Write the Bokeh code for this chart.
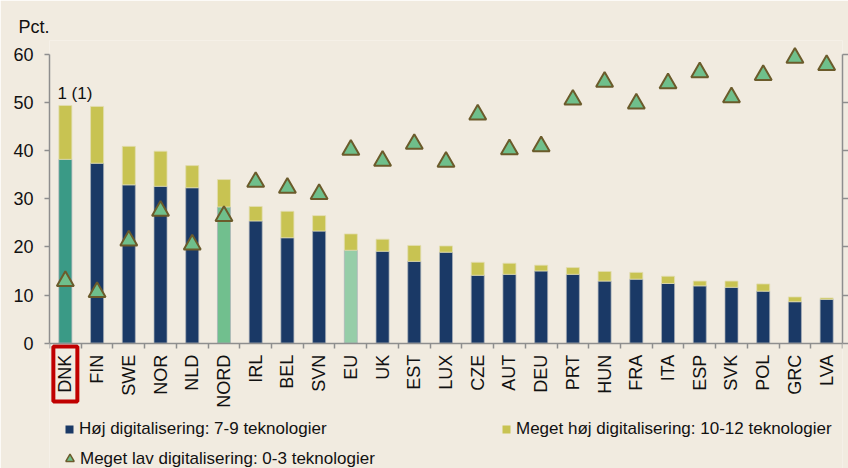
import math
from bokeh.plotting import figure
from bokeh.models import (ColumnDataSource, Range1d, FixedTicker, CustomJSTickFormatter,
                          LinearAxis, Label, Legend, LegendItem, Title)
from bokeh.transform import dodge
from bokeh.embed import file_html
from bokeh.resources import INLINE
from bokeh.core.properties import value

# ---------------- data ----------------
countries = ["DNK", "FIN", "SWE", "NOR", "NLD", "NORD", "IRL", "BEL", "SVN", "EU", "UK", "EST", "LUX",
             "CZE", "AUT", "DEU", "PRT", "HUN", "FRA", "ITA", "ESP", "SVK", "POL", "GRC", "LVA"]
hoj = [38.2, 37.4, 32.9, 32.6, 32.3, 28.3, 25.4, 21.9, 23.3, 19.3, 19.1, 17.0, 18.9,
       14.1, 14.3, 15.0, 14.3, 12.9, 13.3, 12.4, 11.9, 11.6, 10.8, 8.6, 9.1]
meget_hoj = [11.2, 11.8, 8.0, 7.3, 4.6, 5.7, 3.0, 5.5, 3.2, 3.4, 2.5, 3.3, 1.3,
             2.7, 2.3, 1.2, 1.4, 2.0, 1.4, 1.5, 1.0, 1.3, 1.5, 1.0, 0.3]
meget_lav = [13.4, 11.1, 21.8, 28.0, 21.0, 26.9, 34.0, 32.8, 31.5, 40.7, 38.4, 41.9, 38.2,
             48.0, 40.8, 41.4, 51.1, 54.8, 50.3, 54.5, 56.8, 51.6, 56.2, 59.8, 58.3]
y_ticks = [0, 10, 20, 30, 40, 50, 60]
series_names = ["Høj digitalisering: 7-9 teknologier",
                "Meget høj digitalisering: 10-12 teknologier",
                "Meget lav digitalisering: 0-3 teknologier"]
highlight_label = "1 (1)"
y_title = "Pct."

# ---------------- style / layout ----------------
BG = "#F1EBE0"
NAVY = "#1A3966"
YELLOW = "#C8C352"
TRI_FILL = "#6FBF8B"
TRI_LINE = "#6B5B2B"
AXIS = "#8E8E8E"
RED = "#C00000"
TXT = "#111111"
FONT = "Liberation Sans"
special = {"DNK": "#3A9A86", "NORD": "#71BF8E", "EU": "#96CDA8"}

W, H = 848, 468
LEFT, RIGHT, TOP = 49, 6, 40          # frame borders in px
PX_PER_UNIT = 4.81                    # vertical scale
Y60_PX = 54                           # pixel row of the 60 gridline
frame_h = H - TOP
y_end = 60 + (Y60_PX - TOP) / PX_PER_UNIT
y_start = y_end - frame_h / PX_PER_UNIT

n = len(countries)
xs = [i + 0.5 for i in range(n)]
bottom_colors = [special.get(c, NAVY) for c in countries]
tops = [a + b for a, b in zip(hoj, meget_hoj)]

src = ColumnDataSource(dict(x=xs, hoj=hoj, top=tops, lav=meget_lav, color=bottom_colors,
                            name=countries))

p = figure(width=W, height=H, x_range=Range1d(0, n), y_range=Range1d(y_start, y_end),
           x_axis_type=None, y_axis_type=None,
           output_backend="svg", toolbar_location=None,
           min_border_left=LEFT, min_border_right=RIGHT, min_border_top=TOP, min_border_bottom=0,
           background_fill_color=BG, border_fill_color=BG, outline_line_color=None)

r_hoj = p.vbar(x="x", bottom=0, top="hoj", width=0.41, source=src, fill_color="color",
               line_color="#A9B0B8", line_alpha=0.7, line_width=1)
r_mh = p.vbar(x="x", bottom="hoj", top="top", width=0.41, source=src, fill_color=YELLOW,
              line_color="#E2DDB0", line_alpha=0.8, line_width=1)
r_lav = p.scatter(x="x", y=dodge("lav", -0.5, range=p.y_range), source=src, marker="triangle",
                  size=17, fill_color=TRI_FILL, line_color=TRI_LINE, line_width=2)

# category labels below the zero line (vertical, reading upwards)
p.text(x="x", y=-2.4, text="name", source=src, angle=math.pi / 2,
       text_align="right", text_baseline="middle", text_font=value(FONT),
       text_font_size="18px", text_color=TXT)
# red frame around DNK
p.rect(x=xs[0], y=-6.4, width=24, height=55, width_units="screen", height_units="screen",
       fill_color=None, line_color=RED, line_width=4)

# ---------------- axes ----------------
xaxis = LinearAxis(
    fixed_location=0,
    ticker=FixedTicker(ticks=[], minor_ticks=list(range(n + 1))),
    formatter=CustomJSTickFormatter(code="return '';"),
    major_label_text_font_size="0px", major_label_standoff=0,
    major_tick_out=0, major_tick_in=0, minor_tick_out=0, minor_tick_in=5,
    axis_line_color=AXIS, axis_line_width=1.5,
    minor_tick_line_color=AXIS, minor_tick_line_width=1.5)
p.add_layout(xaxis, "above")

yaxis = LinearAxis(
    bounds=(0, 60),
    ticker=FixedTicker(ticks=y_ticks),
    major_tick_out=5, major_tick_in=0, minor_tick_out=0, minor_tick_in=0,
    axis_line_color=AXIS, axis_line_width=1.5,
    major_tick_line_color=AXIS, major_tick_line_width=1.5,
    major_label_text_font=FONT, major_label_text_font_size="18px",
    major_label_text_color=TXT, major_label_standoff=11)
p.add_layout(yaxis, "left")

raxis = LinearAxis(
    bounds=(0, 60),
    ticker=FixedTicker(ticks=y_ticks),
    formatter=CustomJSTickFormatter(code="return '';"),
    major_label_text_font_size="0px",
    major_tick_out=6, major_tick_in=0, minor_tick_out=0, minor_tick_in=0,
    axis_line_color=AXIS, axis_line_width=1.5,
    major_tick_line_color=AXIS, major_tick_line_width=1.5,
    major_label_standoff=0)
p.add_layout(raxis, "right")

p.add_layout(Title(text=y_title, align="left", offset=-31, standoff=8,
                   text_font=FONT, text_font_size="18px", text_font_style="normal",
                   text_color=TXT), "above")

# ---------------- annotations ----------------
p.add_layout(Label(x=0.25, y=51.9, text=highlight_label, text_font=FONT, text_font_size="17px",
                   text_color=TXT, text_align="left", text_baseline="middle"))

# ---------------- legends ----------------
# hidden renderers that only supply the legend swatches
leg_navy = p.scatter(x="x", y="hoj", source=src, marker="square", fill_color=NAVY,
                     line_color=None, visible=False)
leg_yel = p.scatter(x="x", y="top", source=src, marker="square", fill_color=YELLOW,
                    line_color=None, visible=False)
leg_tri = p.scatter(x="x", y="lav", source=src, marker="triangle", fill_color=TRI_FILL,
                    line_color=TRI_LINE, line_width=1.5, visible=False)

def make_legend(label, rend, loc, g):
    lg = Legend(items=[LegendItem(label=label, renderers=[rend])], location=loc,
                glyph_width=g, glyph_height=g, label_standoff=0, label_height=20,
                padding=0, margin=0, spacing=0,
                border_line_alpha=0, background_fill_alpha=0,
                inactive_fill_alpha=0,
                label_text_font=FONT, label_text_font_size="17px", label_text_color=TXT)
    p.add_layout(lg)

make_legend(series_names[0], leg_navy, (10, 29.5), 20)
make_legend(series_names[1], leg_yel, (447, 29.5), 20)
make_legend(series_names[2], leg_tri, (10, -1), 21)

open("out.html", "w").write(file_html(p, INLINE))
